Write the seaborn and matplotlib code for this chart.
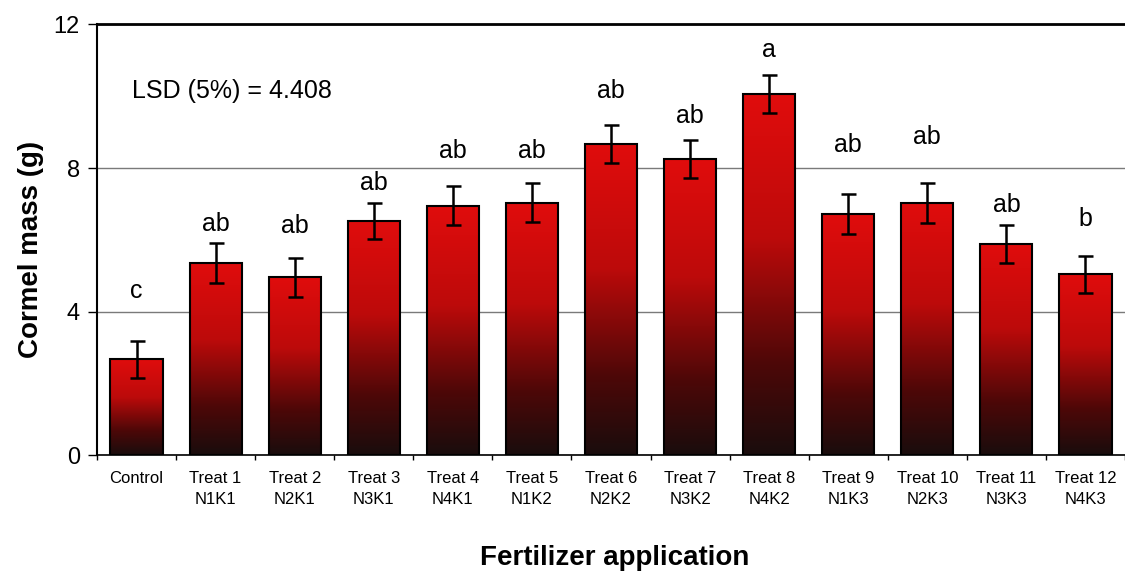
import numpy as np
import pandas as pd
import matplotlib
matplotlib.use("Agg")
import matplotlib.pyplot as plt
from matplotlib.colors import LinearSegmentedColormap
from matplotlib.ticker import FixedLocator
import seaborn as sns

# ---- data ----
treatments = ["Control", "Treat 1", "Treat 2", "Treat 3", "Treat 4", "Treat 5", "Treat 6",
              "Treat 7", "Treat 8", "Treat 9", "Treat 10", "Treat 11", "Treat 12"]
combos = ["", "N1K1", "N2K1", "N3K1", "N4K1", "N1K2", "N2K2",
          "N3K2", "N4K2", "N1K3", "N2K3", "N3K3", "N4K3"]
cormel_mass = [2.68, 5.36, 4.96, 6.53, 6.95, 7.03, 8.67, 8.24, 10.07, 6.72, 7.03, 5.88, 5.04]
std_error = [0.51, 0.55, 0.54, 0.50, 0.54, 0.54, 0.54, 0.53, 0.53, 0.55, 0.55, 0.53, 0.51]
letters = ["c", "ab", "ab", "ab", "ab", "ab", "ab", "ab", "a", "ab", "ab", "ab", "b"]
letter_heights = [4.37, 6.26, 6.18, 7.40, 8.29, 8.29, 9.96, 9.26, 11.10, 8.46, 8.68, 6.79, 6.40]
y_ticks = [0, 4, 8, 12]
lsd_text = "LSD (5%) = 4.408"

sns.set_style("white")
plt.rcParams["font.family"] = ["Liberation Sans", "DejaVu Sans"]
plt.rcParams["text.color"] = "black"
plt.rcParams["axes.labelcolor"] = "black"
plt.rcParams["xtick.color"] = "black"
plt.rcParams["ytick.color"] = "black"

labels = [t + "\n" + (c if c else " ") for t, c in zip(treatments, combos)]
df = pd.DataFrame({"label": labels, "mass": cormel_mass})

fig = plt.figure(figsize=(11.25, 5.71), dpi=100)
ax = fig.add_axes([97 / 1125, 0.2023, 1028 / 1125, 0.7551])

sns.barplot(data=df, x="label", y="mass", width=0.66, color="#d01010",
            edgecolor="black", linewidth=1.5, errorbar=None, ax=ax)

# gradient fill: red at top to near-black at bottom
cmap = LinearSegmentedColormap.from_list(
    "redblack",
    [(0.0, (0.10, 0.05, 0.05)), (0.25, (0.30, 0.03, 0.03)),
     (0.6, (0.74, 0.04, 0.04)), (1.0, (0.88, 0.05, 0.05))])
grad = np.linspace(1, 0, 256).reshape(-1, 1)
for p in list(ax.patches):
    x0, y0 = p.get_x(), p.get_y()
    w, h = p.get_width(), p.get_height()
    im = ax.imshow(grad, cmap=cmap, vmin=0, vmax=1, aspect="auto",
                   extent=[x0, x0 + w, y0, y0 + h], zorder=1.5, interpolation="bilinear")
    im.set_clip_path(p)
    p.set_facecolor("none")
    p.set_zorder(2)

ax.errorbar(x=np.arange(len(cormel_mass)), y=cormel_mass, yerr=std_error, fmt="none",
            ecolor="black", elinewidth=1.8, capsize=5.4, capthick=1.8, zorder=3)

for i, (lt, hy) in enumerate(zip(letters, letter_heights)):
    ax.text(i, hy, lt, ha="center", va="baseline", fontsize=18, color="black", zorder=4)

ax.text(0.034, 10.15, lsd_text, transform=ax.get_yaxis_transform(),
        ha="left", va="center", fontsize=18, color="black")

ax.set_xlim(-0.5, len(cormel_mass) - 0.5)
ax.set_ylim(0, 12)
ax.set_yticks(y_ticks)
ax.set_yticklabels([str(v) for v in y_ticks])

# grid
ax.set_axisbelow(True)
ax.yaxis.grid(True, color="#7a7a7a", linewidth=1.0)
ax.xaxis.grid(False)

for s in ["left", "bottom", "top"]:
    ax.spines[s].set_visible(True)
    ax.spines[s].set_color("black")
ax.spines["left"].set_linewidth(1.5)
ax.spines["bottom"].set_linewidth(1.2)
ax.spines["top"].set_linewidth(2.0)
ax.spines["right"].set_visible(False)

ax.tick_params(axis="y", which="major", direction="out", length=6.5, width=1.0,
               color="black", labelcolor="black", labelsize=17, pad=5.8, left=True)
ax.xaxis.set_minor_locator(FixedLocator(np.arange(-0.5, len(cormel_mass), 1.0)))
ax.tick_params(axis="x", which="minor", direction="out", length=3.6, width=1.0,
               color="black", bottom=True)
ax.tick_params(axis="x", which="major", length=0, labelsize=12, pad=11, labelcolor="black")
for tl in ax.get_xticklabels():
    tl.set_linespacing(1.55)

ax.set_xlabel("Fertilizer application", fontsize=20, fontweight="bold", color="black")
ax.xaxis.set_label_coords(0.504, -0.254)
ax.xaxis.label.set_verticalalignment("baseline")
ax.set_ylabel("Cormel mass (g)", fontsize=20, fontweight="bold", color="black")
ax.yaxis.set_label_coords(-0.0516, 0.479)

fig.savefig("out.png", dpi=100, facecolor="white")
